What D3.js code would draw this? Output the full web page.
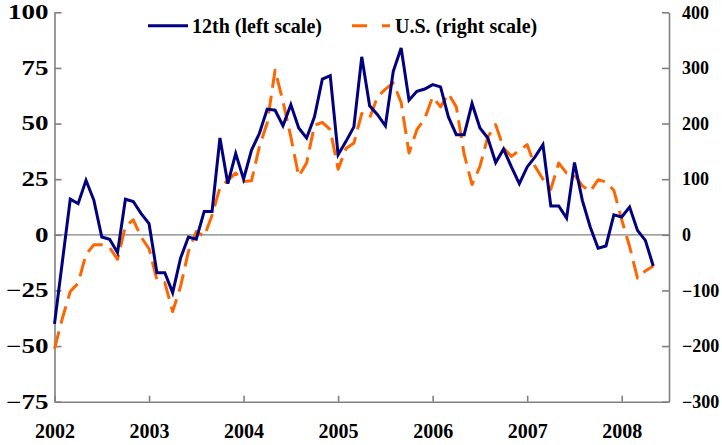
<!DOCTYPE html>
<html>
<head>
<meta charset="utf-8">
<script src="https://cdn.jsdelivr.net/npm/d3@7"></script>
<style>
  html, body { margin: 0; padding: 0; background: #fff; }
  svg { display: block; }
  text { font-family: "Liberation Serif", "Times New Roman", serif; font-weight: bold; fill: #000; }
</style>
</head>
<body>
<svg id="chart" width="722" height="445"></svg>
<script>
// ---- Data (monthly, Jan 2002 .. May 2008) ----
const startYear = 2002;
const seriesNames = ["12th (left scale)", "U.S. (right scale)"];
const twelfth = [
  -40, -12, 16, 14, 24.5, 15.5, -1, -2, -8, 16, 15, 9.5,
  5, -17, -17, -26, -10.5, -1, -2, 10.5, 10.5, 43.5, 23, 36.5,
  25, 38, 45.5, 56.5, 56, 49, 58.5, 48, 43.5, 53, 70, 71.5,
  36, 42, 48.5, 80, 58, 54, 49, 73.5, 84, 60.5, 64.5, 65.5,
  67.5, 66.5, 53, 45, 45, 59, 48, 43.5, 32.5, 38.5, 30.5, 23,
  30.5, 35, 40.5, 13, 13, 7.5, 32.5, 15.5, 3.5, -6, -5, 9,
  8, 12.5, 2, -2.5, -14
];
const us = [
  -205, -150, -102, -87, -35, -18, -18, -23, -44, 15, 27, -4,
  -25, -81, -86, -138, -93, -30, 6, -3, 35, 85, 98, 111,
  96, 97, 158, 201, 296, 240, 176, 105, 129, 197, 202, 189,
  118, 155, 165, 218, 210, 248, 262, 273, 238, 147, 189, 209,
  248, 230, 254, 230, 145, 90, 123, 176, 198, 156, 141, 152,
  162, 123, 100, 82, 129, 111, 108, 88, 78, 99, 95, 80,
  27, -21, -78, -65, -56
];
const yearTicks = [2002, 2003, 2004, 2005, 2006, 2007, 2008];
const leftTicks = [-75, -50, -25, 0, 25, 50, 75, 100];
const rightTicks = [-300, -200, -100, 0, 100, 200, 300, 400];

// ---- Scales ----
const svg = d3.select("#chart");
const x = d3.scaleLinear().domain([2002, 2008.5]).range([54.5, 669]);
const yL = d3.scaleLinear().domain([-75, 100]).range([401.7, 12.3]);
const yR = d3.scaleLinear().domain([-300, 400]).range([401.7, 12.3]);
const t = i => startYear + i / 12;

// zero line
svg.append("line")
  .attr("x1", x(2002)).attr("x2", x(2008.5))
  .attr("y1", yL(0)).attr("y2", yL(0))
  .attr("stroke", "#808080").attr("stroke-width", 1.2);

// ---- Axes ----
const axisColor = "#808080";
function styleAxis(g) {
  g.selectAll(".domain").attr("stroke", axisColor).attr("stroke-width", 1.6);
  g.selectAll(".tick line").attr("stroke", axisColor).attr("stroke-width", 1.6);
  g.selectAll("text").attr("font-size", 20)
    .attr("font-family", '"Liberation Serif", "Times New Roman", serif')
    .attr("font-weight", "bold").attr("fill", "#000");
}

const gL = svg.append("g").attr("transform", `translate(${x(2002)},0)`)
  .call(d3.axisLeft(yL).tickValues(leftTicks).tickSize(-7).tickSizeOuter(0).tickPadding(6).tickFormat(d3.format("d")));
styleAxis(gL);
gL.selectAll("text").attr("x", 0).attr("transform", "translate(-6,0) scale(1.35,1)");

const gR = svg.append("g").attr("transform", `translate(${x(2008.5)},0)`)
  .call(d3.axisRight(yR).tickValues(rightTicks).tickSize(-7).tickSizeOuter(0).tickPadding(13).tickFormat(d3.format("d")));
styleAxis(gR);
gR.selectAll("text").attr("font-size", 18);

const gB = svg.append("g").attr("transform", `translate(0,${yL(-75)})`)
  .call(d3.axisBottom(x).tickValues(yearTicks).tickSize(-6).tickSizeOuter(0).tickPadding(22).tickFormat(d3.format("d")));
styleAxis(gB);
gB.selectAll("text").attr("font-size", 20);

// ---- Lines ----
const lineL = d3.line().x((d, i) => x(t(i))).y(d => yL(d));
const lineR = d3.line().x((d, i) => x(t(i))).y(d => yR(d));

svg.append("path").datum(us)
  .attr("d", lineR).attr("fill", "none")
  .attr("stroke", "#FF6600").attr("stroke-width", 3)
  .attr("stroke-dasharray", "18,8").attr("stroke-linejoin", "round");

svg.append("path").datum(twelfth)
  .attr("d", lineL).attr("fill", "none")
  .attr("stroke", "#000080").attr("stroke-width", 3)
  .attr("stroke-linejoin", "miter");

// ---- Legend ----
const leg = svg.append("g");
leg.append("line").attr("x1", 148).attr("x2", 188).attr("y1", 25.7).attr("y2", 25.7)
  .attr("stroke", "#000080").attr("stroke-width", 3);
leg.append("text").attr("x", 192).attr("y", 33).attr("font-size", 20).text(seriesNames[0]);
leg.append("line").attr("x1", 352).attr("x2", 390).attr("y1", 25.7).attr("y2", 25.7)
  .attr("stroke", "#FF6600").attr("stroke-width", 3).attr("stroke-dasharray", "15,15");
leg.append("text").attr("x", 395).attr("y", 33).attr("font-size", 20).text(seriesNames[1]);
</script>
</body>
</html>
